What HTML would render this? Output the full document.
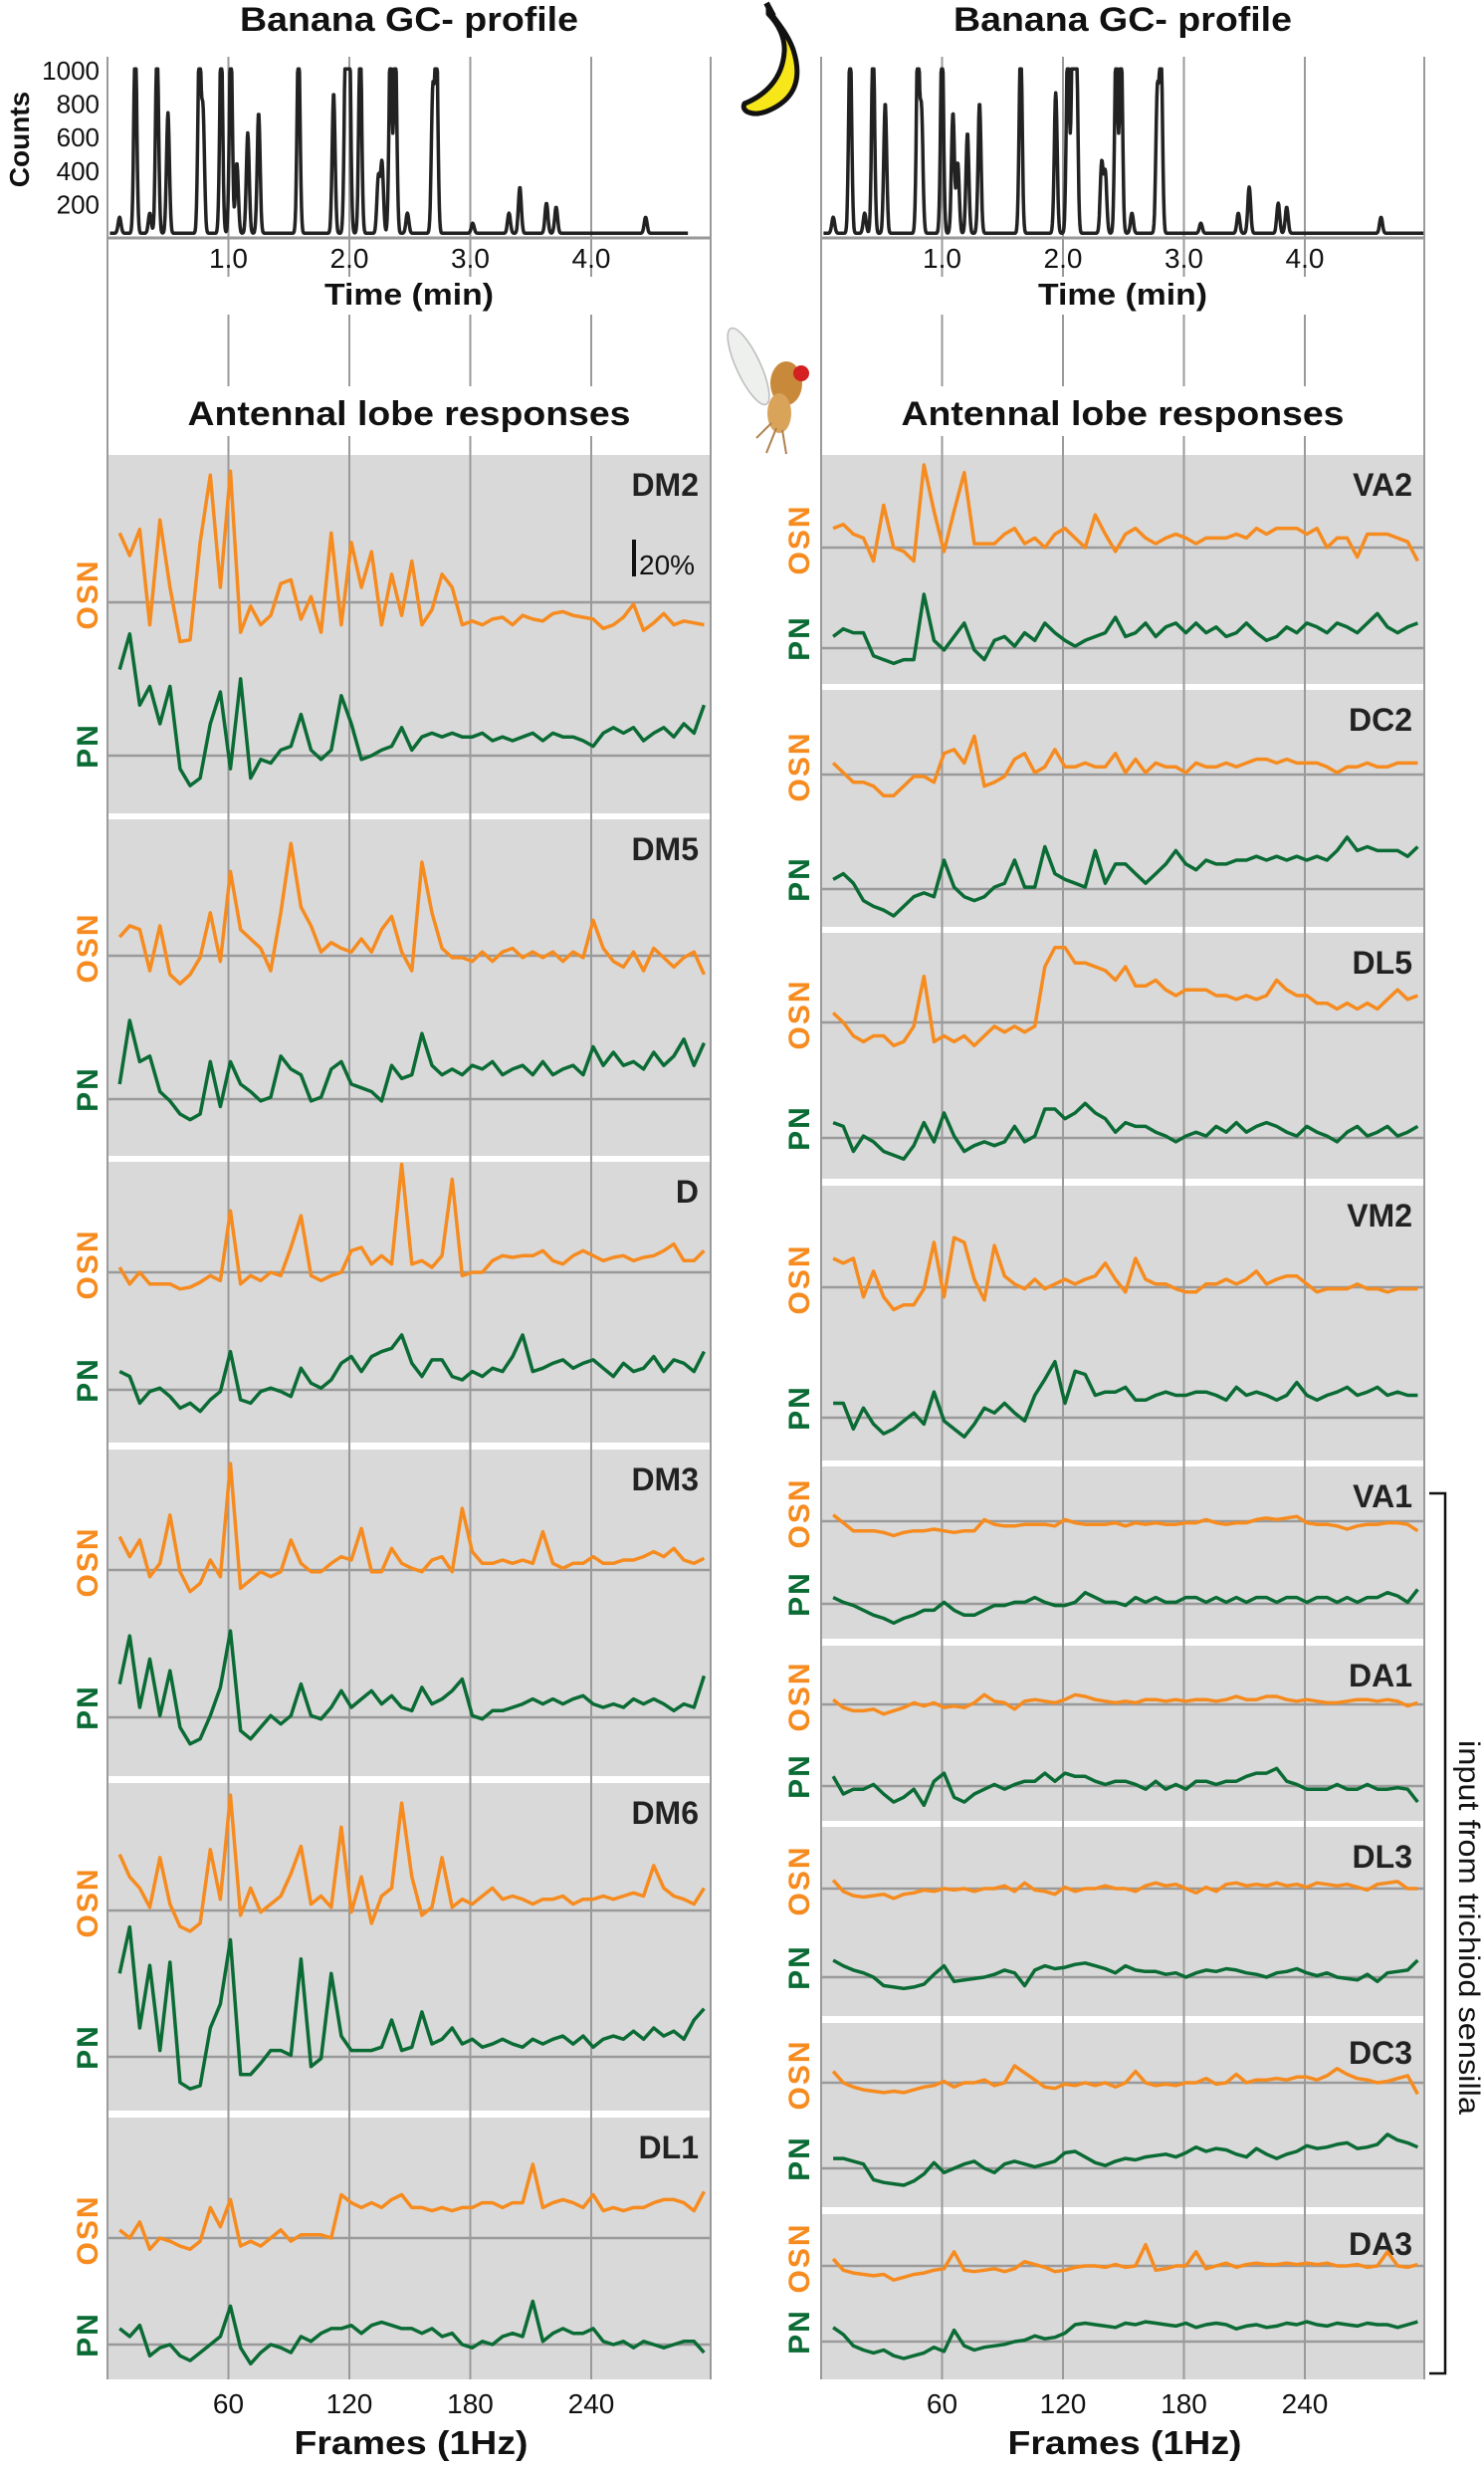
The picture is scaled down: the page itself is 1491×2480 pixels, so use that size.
<!DOCTYPE html>
<html><head><meta charset="utf-8"><style>
html,body{margin:0;padding:0;background:#fff}
svg{display:block;font-family:"Liberation Sans",sans-serif}
</style></head><body>
<svg id="fig" width="1491" height="2480" viewBox="0 0 1491 2480" xmlns="http://www.w3.org/2000/svg">
<g id="bg"></g>
<g id="icons">
  <g>
    <path d="M772,8 C776,18 790,30 797,50 C806,78 800,100 770,112 C756,117 744,112 748,104 C768,96 786,80 788,52 C789,38 782,24 772,14 Z" fill="#f7e619" stroke="#111" stroke-width="5" stroke-linejoin="round"/>
    <path d="M770,3 L777,16" stroke="#111" stroke-width="6"/>
  </g>
  <g>
    <ellipse cx="752" cy="368" rx="12" ry="42" fill="#eef0ee" stroke="#bbb" stroke-width="1.5" transform="rotate(-25 752 368)"/>
    <ellipse cx="790" cy="385" rx="16" ry="22" fill="#c88a3a"/>
    <ellipse cx="783" cy="415" rx="12" ry="20" fill="#d9a35a"/>
    <circle cx="805" cy="375" r="8" fill="#d42020"/>
    <path d="M780,430 L770,455 M786,432 L790,456 M775,425 L760,440" stroke="#b08050" stroke-width="2" fill="none"/>
  </g>
</g>
<g id="texts"></g>
<g id="marks"></g>
</svg>
<script>
// ---------- GC profile data (minutes, counts) ----------
const gcTimesLeft=[0.10,0.23,0.35,0.41,0.50,0.76,0.79,0.94,1.02,1.07,1.16,1.25,1.58,1.87,1.97,2.00,2.09,2.24,2.27,2.34,2.38,2.48,2.69,2.72,3.02,3.32,3.41,3.63,3.71,4.45];
const gcHeightsLeft=[80,1000,100,1000,600,1000,600,1000,1000,350,500,600,1000,700,1000,1000,1000,280,350,1000,1000,100,700,1000,50,100,230,150,130,80];
const gcTimesRight=[0.10,0.24,0.36,0.43,0.53,0.80,0.83,1.00,1.09,1.13,1.21,1.31,1.65,1.94,2.04,2.08,2.11,2.32,2.35,2.44,2.48,2.57,2.78,2.81,3.14,3.45,3.54,3.78,3.85,4.63];
const gcHeightsRight=[80,1000,100,1000,650,1000,600,1000,600,350,500,650,1000,700,1000,1000,1000,350,300,1000,1000,100,700,1000,50,100,230,150,130,80];
const gcCountTicks=[200,400,600,800,1000];
const gcTimeTicks=["1.0","2.0","3.0","4.0"];
const frameTicks=[60,120,180,240];

// ---------- Antennal lobe traces (% dF/F, frames 6..296 every 5) ----------
const dm2Osn=[37,25,39,-12,44,8,-21,-20,32,68,8,70,-16,-2,-12,-7,10,12,-9,3,-16,37,-12,32,8,27,-12,15,-7,22,-12,-4,15,8,-12,-10,-12,-9,-8,-12,-7,-9,-10,-6,-5,-7,-8,-9,-14,-12,-8,-1,-15,-11,-6,-12,-10,-11,-12];
const dm2Pn=[46,65,27,37,17,37,-7,-16,-12,17,34,-7,41,-12,-2,-4,3,5,22,3,-2,3,32,17,-2,0,3,5,15,3,10,12,10,12,10,10,12,8,10,8,10,12,8,12,10,10,8,5,12,15,12,15,8,12,15,10,17,12,27];
const dm5Osn=[10,16,14,-8,16,-10,-15,-10,-1,23,-3,45,14,9,4,-8,23,60,26,16,2,7,4,2,9,2,14,21,2,-8,50,23,4,-1,-1,-3,2,-3,2,4,-1,2,-1,2,-3,2,-1,19,4,-3,-6,2,-8,4,-1,-6,-1,2,-10];
const dm5Pn=[8,42,20,23,4,-1,-8,-11,-8,20,-4,20,8,4,-1,1,23,16,13,-1,1,16,20,8,6,4,-1,18,11,13,35,18,13,16,13,18,16,20,13,16,18,13,20,13,16,18,13,28,18,25,18,20,16,25,18,23,32,18,30];
const dOsn=[3,-7,0,-7,-7,-7,-10,-9,-6,-2,-5,37,-7,-2,-5,0,-2,15,34,-2,-5,-2,0,13,15,5,10,5,65,5,7,3,10,56,-2,0,0,7,10,9,10,10,13,7,5,10,13,10,7,9,10,7,9,10,13,17,7,7,13];
const dPn=[11,8,-8,-1,1,-4,-11,-8,-13,-6,-1,23,-6,-8,-1,1,-1,-4,13,4,1,6,16,20,11,20,23,25,33,16,8,18,18,8,6,11,8,13,11,20,33,11,13,16,18,13,16,18,13,8,16,11,13,20,11,18,16,11,23];
const dm3Osn=[20,8,18,-4,4,33,-1,-13,-8,6,-4,64,-11,-6,-1,-4,-1,18,4,-1,-1,4,8,6,25,-1,-1,13,4,1,-1,6,8,-1,37,11,4,4,6,4,6,4,23,4,1,4,4,8,4,4,6,6,8,11,8,13,6,4,7];
const dm3Pn=[20,49,6,35,1,28,-6,-16,-13,1,18,52,-8,-13,-6,1,-4,1,20,1,-1,6,16,6,11,16,8,13,6,4,18,8,11,16,23,1,-1,4,4,6,8,11,8,11,8,11,13,8,6,8,6,11,8,11,8,4,8,6,25];
const dm6Osn=[35,21,14,2,33,4,-10,-13,-8,38,7,72,-3,14,-1,4,9,23,40,4,9,2,52,-1,21,-8,9,14,67,21,-3,2,33,2,7,4,9,14,7,9,7,4,7,7,9,4,7,7,9,7,9,11,9,28,14,9,7,4,14];
const dm6Pn=[52,81,18,57,4,59,-16,-20,-18,18,33,73,-11,-11,-4,4,4,1,61,-6,-1,52,13,4,4,4,6,23,4,6,28,8,11,18,8,11,6,8,11,8,6,11,8,11,13,8,13,6,11,13,11,16,11,18,13,16,11,23,30];
const dl1Osn=[5,0,10,-7,0,-2,-5,-7,-2,19,7,24,-5,-2,-5,0,5,-2,2,2,2,0,27,22,19,22,19,24,27,19,19,17,19,17,19,19,22,22,19,22,22,46,19,22,24,22,19,27,17,19,17,19,19,22,24,24,22,17,29];
const dl1Pn=[10,5,12,-7,-2,0,-7,-10,-5,0,5,24,-2,-12,-5,0,-2,-5,5,2,7,10,10,12,7,12,14,12,10,10,7,10,5,7,0,-2,2,0,5,7,5,27,2,7,10,7,7,10,2,0,2,-2,2,0,-2,0,2,2,-5];
const va2Osn=[10,12,7,5,-7,22,0,-2,-7,43,19,-2,19,39,2,2,2,7,10,2,5,0,7,10,5,0,17,7,-2,7,10,5,2,5,7,5,2,5,5,5,7,5,10,7,10,10,10,7,10,0,5,5,-5,7,7,7,5,3,-7];
const va2Pn=[6,10,8,8,-4,-6,-8,-6,-6,28,4,-1,6,13,-1,-6,4,6,1,8,4,13,8,4,1,4,6,8,16,6,8,13,6,11,13,8,13,8,11,6,8,13,8,4,6,11,8,13,11,8,13,11,8,13,18,11,8,11,13];
const dc2Osn=[6,1,-4,-4,-6,-11,-11,-6,-1,-1,-4,11,13,6,20,-6,-4,-1,8,11,1,4,13,4,4,6,4,4,11,1,8,1,6,4,4,1,6,4,4,6,4,6,8,8,6,8,6,6,6,4,1,4,4,6,4,4,6,6,6];
const dc2Pn=[5,8,3,-6,-9,-11,-14,-9,-4,-2,-4,15,1,-4,-6,-4,1,3,15,1,1,22,8,5,3,1,20,3,13,13,8,3,8,13,20,13,10,15,13,13,15,15,17,15,17,15,17,15,17,15,20,27,20,22,20,20,20,17,22];
const dl5Osn=[5,0,-7,-10,-7,-7,-12,-10,-2,24,-10,-7,-10,-7,-12,-7,-2,-5,-2,-5,-2,29,39,39,31,31,29,27,22,29,19,19,22,17,14,17,17,17,14,14,12,14,12,14,22,17,14,14,10,10,7,10,7,10,7,12,17,12,14];
const dl5Pn=[8,6,-7,1,-2,-7,-9,-11,-4,8,-2,13,1,-7,-4,-2,-4,-2,6,-2,1,15,15,10,13,18,13,10,3,8,6,6,3,1,-2,1,3,1,6,3,8,3,6,8,6,3,1,6,3,1,-2,3,6,1,3,6,1,3,6];
const vm2Osn=[18,15,18,-6,10,-6,-14,-11,-11,-1,28,-6,31,28,5,-8,26,7,2,-1,5,-1,2,5,2,5,7,15,5,-3,18,5,2,2,-1,-3,-3,2,2,5,2,5,10,2,5,7,7,2,-3,-1,-1,-1,2,-1,-1,-3,-1,-1,-1];
const vm2Pn=[9,9,-7,6,-4,-10,-7,-2,3,-4,16,-2,-7,-12,-4,6,3,9,3,-2,14,24,35,9,29,27,14,16,16,19,11,11,14,16,14,14,16,16,14,11,19,14,16,14,11,14,22,14,11,14,16,19,14,16,19,14,16,14,14];
const va1Osn=[4,-1,-6,-6,-6,-7,-9,-7,-6,-6,-5,-6,-7,-6,-6,1,-2,-3,-3,-2,-2,-2,-3,1,-1,-2,-2,-2,-1,-3,-1,-2,-1,-2,-2,-1,-1,1,-1,-2,-1,-1,1,2,1,2,3,-1,-2,-2,-3,-5,-3,-2,-2,-1,-1,-2,-6];
const va1Pn=[4,1,-1,-4,-7,-9,-12,-9,-7,-4,-4,1,-4,-7,-7,-4,-1,-1,1,1,4,1,-1,-1,1,7,4,1,1,-1,4,1,4,1,1,4,4,1,4,1,4,1,4,4,1,4,4,1,4,4,1,4,1,4,4,7,5,1,9];
const da1Osn=[3,-2,-4,-4,-3,-6,-4,-2,1,-1,1,-2,-1,-2,1,6,2,1,-3,2,3,2,1,3,6,5,3,2,1,2,1,3,3,2,3,2,3,3,2,3,5,3,3,5,5,3,2,3,2,1,1,2,3,3,2,3,2,-1,1];
const da1Pn=[6,-5,-2,-2,1,-5,-10,-7,-2,-12,3,8,-7,-10,-5,-2,1,-2,1,3,3,8,3,8,6,6,3,1,3,3,1,-2,3,-2,1,-2,3,3,1,3,3,6,8,8,11,3,1,-2,-2,-2,1,-2,-2,1,-2,-2,-1,-2,-10];
const dl3Osn=[6,-2,-5,-6,-5,-4,-7,-4,-3,-1,-2,0,-1,0,-2,0,0,2,-2,4,-1,-2,-4,1,-2,0,0,2,0,0,-2,2,4,2,3,0,-3,1,-2,3,4,2,3,2,4,2,3,1,4,3,2,3,1,-1,3,4,5,0,0];
const dl3Pn=[12,8,5,3,0,-6,-7,-8,-7,-5,2,8,-3,-2,-1,0,2,5,3,-6,5,8,6,7,9,10,8,6,3,8,5,4,4,2,3,0,3,5,4,6,5,3,2,0,3,4,6,3,1,3,0,-1,-2,2,-3,3,4,5,12];
const dc3Osn=[8,0,-3,-5,-6,-7,-6,-7,-5,-3,-2,1,-3,0,0,2,-2,0,12,7,2,-3,-4,-1,-2,0,-2,0,-3,0,8,0,-2,-1,-2,0,0,3,-1,0,6,0,2,2,3,2,4,4,2,5,10,6,3,2,0,1,3,5,-8];
const dc3Pn=[7,7,5,3,-8,-10,-11,-12,-9,-4,4,-3,0,3,5,0,-3,3,5,3,1,3,5,11,12,8,4,2,5,7,6,8,9,10,8,11,15,12,14,13,10,8,14,10,7,10,12,16,14,15,17,18,14,15,17,24,20,18,15];
const da3Osn=[5,-3,-5,-6,-7,-6,-10,-8,-6,-5,-3,-2,10,-3,-4,-3,-2,-4,-2,3,1,-1,-4,-3,-1,0,0,-1,1,-1,0,15,-3,-2,0,0,10,-2,0,2,-1,1,2,1,1,2,1,2,1,2,0,0,1,-1,0,10,0,-1,1];
const da3Pn=[10,5,-3,-6,-8,-6,-10,-12,-10,-8,-4,-7,8,-3,-6,-4,-3,-2,0,1,4,2,3,6,12,13,12,11,10,13,12,14,13,12,11,13,10,12,13,12,9,11,12,10,11,13,12,14,12,11,13,12,11,13,12,12,10,12,14];
const glomNames=["DM2","DM5","D","DM3","DM6","DL1","VA2","DC2","DL5","VM2","VA1","DA1","DL3","DC3","DA3"];
const osnSeries=[dm2Osn,dm5Osn,dOsn,dm3Osn,dm6Osn,dl1Osn,va2Osn,dc2Osn,dl5Osn,vm2Osn,va1Osn,da1Osn,dl3Osn,dc3Osn,da3Osn];
const pnSeries=[dm2Pn,dm5Pn,dPn,dm3Pn,dm6Pn,dl1Pn,va2Pn,dc2Pn,dl5Pn,vm2Pn,va1Pn,da1Pn,dl3Pn,dc3Pn,da3Pn];

// ---------- layout (pixels) ----------
const NS="http://www.w3.org/2000/svg";
const svg=document.getElementById('fig');
const bg=document.getElementById('bg'), tx=document.getElementById('texts'), mk=document.getElementById('marks');
const cols=[{x0:108,x1:714,cx:411},{x0:825,x1:1431,cx:1128}];
const PXF=121.5/60;
const layout=[ // col, top, bottom, osnBase, pnBase, px per %
 [0,457,817,605,759,1.88],[0,823,1161,960,1104,1.88],[0,1167,1449,1278,1396,1.67],
 [0,1456,1784,1577,1725,1.67],[0,1791,2120,1919,2066,1.61],[0,2127,2390,2248,2355,1.61],
 [1,457,687,550,651,1.93],[1,693,931,778,893,1.93],[1,937,1184,1027,1143,1.93],
 [1,1191,1467,1293,1424,1.61],[1,1473,1646,1528,1611,1.61],[1,1653,1829,1712,1794,1.61],
 [1,1835,2025,1897,1986,1.42],[1,2032,2217,2092,2178,1.42],[1,2224,2390,2276,2352,1.42]];

function el(tag,attrs,parent,txt){const e=document.createElementNS(NS,tag);for(const k in attrs)e.setAttribute(k,attrs[k]);if(txt!==undefined)e.textContent=txt;parent.appendChild(e);return e;}
function fx(c,f){return cols[c].x0+f*PXF;}

layout.forEach((L,i)=>{
  const r=el('rect',{x:cols[L[0]].x0,y:L[1],width:cols[L[0]].x1-cols[L[0]].x0,height:L[2]-L[1],fill:'#d9d9d9'},bg);
  
  
});
cols.forEach((C,c)=>{
  [0,60,120,180,240,300].forEach(f=>{
    const x=f===300?C.x1:fx(c,f);
    const l=el('line',{x1:x,x2:x,y1:57,y2:2390,stroke:'#9a9a9a','stroke-width':2},bg);
    
    
  });
  el('rect',{x:C.x0+2,y:278,width:C.x1-C.x0-4,height:38,fill:'#fff'},bg);
  el('rect',{x:C.x0+2,y:388,width:C.x1-C.x0-4,height:50,fill:'#fff'},bg);
});
layout.forEach((L,i)=>{
  const C=cols[L[0]];
  [L[3],L[4]].forEach(y=>{
    const b=el('line',{x1:C.x0,x2:C.x1,y1:y,y2:y,stroke:'#9a9a9a','stroke-width':2.5},bg);
    
    
  });
});

const GC_BASE=239, GC_PX=0.168;
function gcPath(c,times,heights,tmax){
  let d='';
  for(let t=0.02;t<=tmax;t+=0.004){
    let v=28;
    for(let k=0;k<times.length;k++){const z=(t-times[k])/0.012;v+=heights[k]*1.2*Math.exp(-0.5*z*z);}
    v=Math.min(v,1010);
    const x=cols[c].x0+t*121.5, y=GC_BASE-v*GC_PX;
    d+=(d?'L':'M')+x.toFixed(1)+','+y.toFixed(1);
  }
  return d;
}
[[0,gcTimesLeft,gcHeightsLeft,4.8],[1,gcTimesRight,gcHeightsRight,4.98]].forEach(([c,t,h,m])=>{
  const p=el('path',{d:gcPath(c,t,h,m),fill:'none',stroke:'#222','stroke-width':3.5,'stroke-linejoin':'round'},mk);
  
  
  const ax=el('line',{x1:cols[c].x0,x2:cols[c].x1,y1:GC_BASE,y2:GC_BASE,stroke:'#999','stroke-width':3},mk);
  
  
  gcTimeTicks.forEach((lab,k)=>{
    const t=el('text',{x:fx(c,frameTicks[k]),y:269,'font-size':28,'text-anchor':'middle',fill:'#111'},tx,lab);
    
    
  });
  const tl=el('text',{x:cols[c].cx,y:306,'font-size':31,'font-weight':'bold','text-anchor':'middle',textLength:170,lengthAdjust:'spacingAndGlyphs',fill:'#111'},tx,'Time (min)');
  
  
  const tt=el('text',{x:cols[c].cx,y:31,'font-size':34,'font-weight':'bold','text-anchor':'middle',textLength:340,lengthAdjust:'spacingAndGlyphs',fill:'#111'},tx,'Banana GC- profile');
  
  
  const at=el('text',{x:cols[c].cx,y:427,'font-size':34,'font-weight':'bold','text-anchor':'middle',textLength:445,lengthAdjust:'spacingAndGlyphs',fill:'#111'},tx,'Antennal lobe responses');
  
  
  frameTicks.forEach(f=>{
    const t=el('text',{x:fx(c,f),y:2424,'font-size':28,'text-anchor':'middle',fill:'#111'},tx,String(f));
    
    
  });
  const fr=el('text',{x:cols[c].cx+2,y:2465,'font-size':33,'font-weight':'bold','text-anchor':'middle',textLength:235,lengthAdjust:'spacingAndGlyphs',fill:'#111'},tx,'Frames (1Hz)');
  
  
});
gcCountTicks.forEach(v=>{
  const t=el('text',{x:100,y:GC_BASE-v*GC_PX+9,'font-size':26,'text-anchor':'end',fill:'#111'},tx,String(v));
  
  
});
const cl=el('text',{x:0,y:0,'font-size':28,'font-weight':'bold','text-anchor':'middle',transform:'translate(29,140) rotate(-90)',fill:'#111'},tx,'Counts');



function tracePath(c,vals,base,pxu){
  let d='';
  vals.forEach((v,k)=>{const x=fx(c,6+k*5),y=base-v*pxu;d+=(k?'L':'M')+x.toFixed(1)+','+y.toFixed(1);});
  return d;
}
layout.forEach((L,i)=>{
  const c=L[0];
  const po=el('path',{d:tracePath(c,osnSeries[i],L[3],L[5]),fill:'none',stroke:'#f68b1f','stroke-width':3.5,'stroke-linejoin':'round'},mk);
  
  
  const pp=el('path',{d:tracePath(c,pnSeries[i],L[4],L[5]),fill:'none',stroke:'#0b6b35','stroke-width':3.5,'stroke-linejoin':'round'},mk);
  
  
  const lx=cols[c].x1-12;
  const g=el('text',{x:lx,y:L[1]+41,'font-size':32,'font-weight':'bold','text-anchor':'end',fill:'#222'},tx,glomNames[i]);
  
  
  const rx=c?803:88;
  const o=el('text',{x:0,y:0,'font-size':30,'font-weight':'bold','text-anchor':'middle','letter-spacing':2,fill:'#f68b1f',transform:`translate(${rx+10},${L[3]-8}) rotate(-90)`},tx,'OSN');
  
  
  const p=el('text',{x:0,y:0,'font-size':30,'font-weight':'bold','text-anchor':'middle','letter-spacing':2,fill:'#0b6b35',transform:`translate(${rx+10},${L[4]-10}) rotate(-90)`},tx,'PN');
  
  
});
const sb=el('line',{x1:637,x2:637,y1:542,y2:579,stroke:'#111','stroke-width':4},mk);


const st=el('text',{x:642,y:577,'font-size':28,fill:'#111'},tx,'20%');


const br=el('path',{d:'M1436,1500 L1452,1500 L1452,2384 L1436,2384',fill:'none',stroke:'#111','stroke-width':2.5},mk);


const bt=el('text',{x:0,y:0,'font-size':30,'text-anchor':'middle',textLength:376,lengthAdjust:'spacingAndGlyphs',fill:'#111',transform:'translate(1466,1936) rotate(90)'},tx,'input from trichiod sensilla');


</script>
</body></html>
